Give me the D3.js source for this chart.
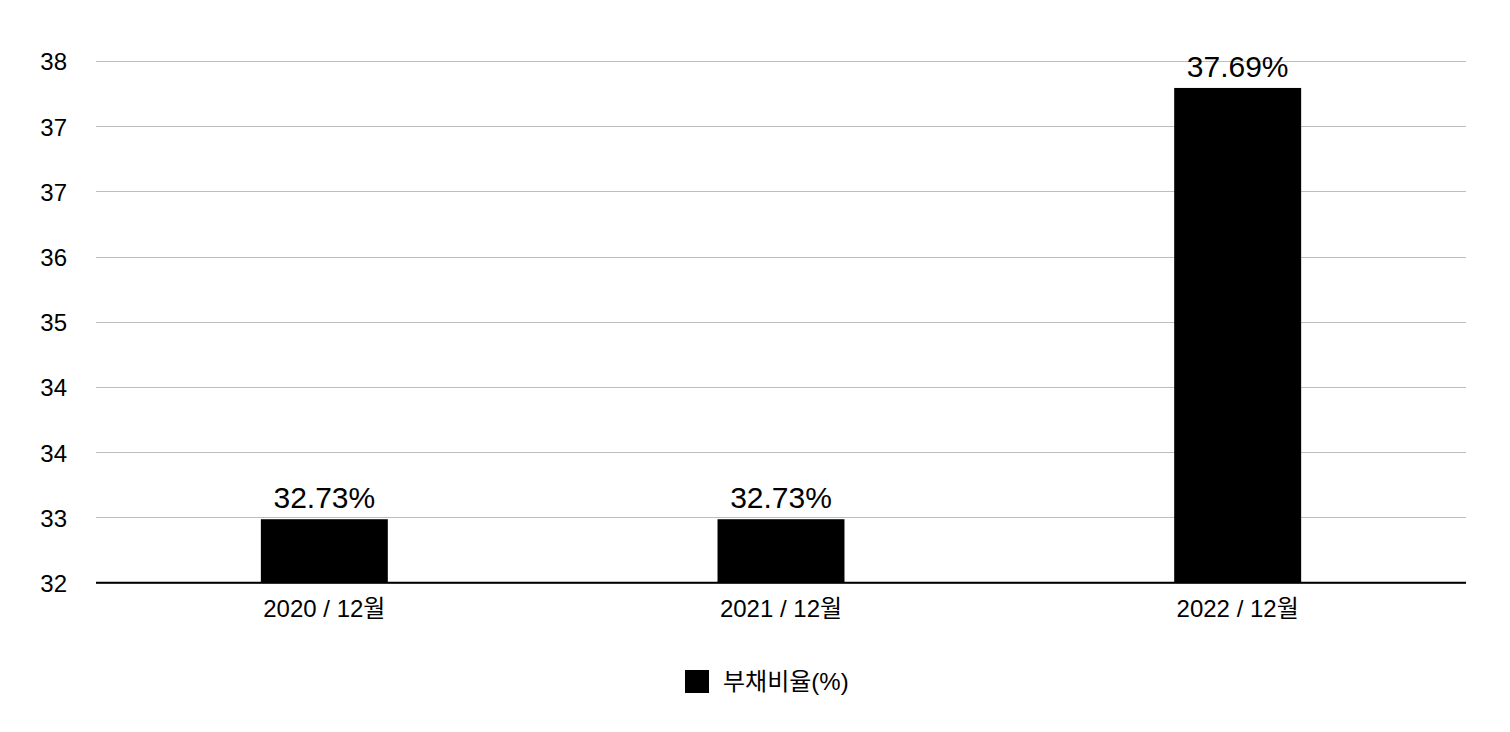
<!DOCTYPE html>
<html>
<head>
<meta charset="utf-8">
<script src="https://cdn.jsdelivr.net/npm/d3@7"></script>
<style>
  body { margin: 0; background: #fff; }
  text { font-family: "Liberation Sans", Arial, "Noto Sans CJK KR", sans-serif; fill: #000; }
</style>
</head>
<body>
<svg id="chart" width="1510" height="732"></svg>
<script>
const categories = ["2020 / 12월", "2021 / 12월", "2022 / 12월"];
const values = [32.73, 32.73, 37.69];
const valueLabels = ["32.73%", "32.73%", "37.69%"];
const yTicks = [32, 32.75, 33.5, 34.25, 35, 35.75, 36.5, 37.25, 38];
const seriesName = "부채비율(%)";

const margin = { top: 61, right: 44, bottom: 149, left: 96 };
const width = 1510, height = 732;

const svg = d3.select("#chart");

const x = d3.scaleBand()
  .domain(categories)
  .range([margin.left, width - margin.right])
  .paddingInner(0.722)
  .paddingOuter(0.361);

const y = d3.scaleLinear()
  .domain([32, 38])
  .range([height - margin.bottom - 0.3, margin.top]);

// gridlines
svg.append("g")
  .selectAll("line")
  .data(yTicks)
  .join("line")
  .attr("x1", margin.left)
  .attr("x2", width - margin.right)
  .attr("y1", d => Math.round(y(d)) + 0.5)
  .attr("y2", d => Math.round(y(d)) + 0.5)
  .attr("stroke", "#bdbdbd")
  .attr("stroke-width", 1);

// y tick labels
svg.append("g")
  .selectAll("text")
  .data(yTicks)
  .join("text")
  .attr("x", 67)
  .attr("y", d => y(d) + 1)
  .attr("dy", "0.35em")
  .attr("text-anchor", "end")
  .style("font-size", "24px")
  .text(d => d3.format(".0f")(d));

// bars
svg.append("g")
  .selectAll("rect")
  .data(values)
  .join("rect")
  .attr("x", (d, i) => x(categories[i]))
  .attr("width", x.bandwidth())
  .attr("y", d => y(d))
  .attr("height", d => y(32) - y(d))
  .attr("fill", "#000");

// value labels
svg.append("g")
  .selectAll("text")
  .data(values)
  .join("text")
  .attr("x", (d, i) => x(categories[i]) + x.bandwidth() / 2)
  .attr("y", d => y(d) - 11)
  .attr("text-anchor", "middle")
  .style("font-size", "30px")
  .text((d, i) => valueLabels[i]);

// x axis line
svg.append("line")
  .attr("x1", margin.left)
  .attr("x2", width - margin.right)
  .attr("y1", y(32))
  .attr("y2", y(32))
  .attr("stroke", "#000")
  .attr("stroke-width", 2);

// x labels
svg.append("g")
  .selectAll("text")
  .data(categories)
  .join("text")
  .attr("x", d => x(d) + x.bandwidth() / 2)
  .attr("y", 617)
  .attr("text-anchor", "middle")
  .style("font-size", "24px")
  .text(d => d);

// legend
const legend = svg.append("g").attr("transform", "translate(685,670)");
legend.append("rect").attr("width", 24).attr("height", 23).attr("fill", "#000");
legend.append("text")
  .attr("x", 38)
  .attr("y", 11.5)
  .attr("dy", "0.35em")
  .style("font-size", "24px")
  .text(seriesName);
</script>
</body>
</html>
